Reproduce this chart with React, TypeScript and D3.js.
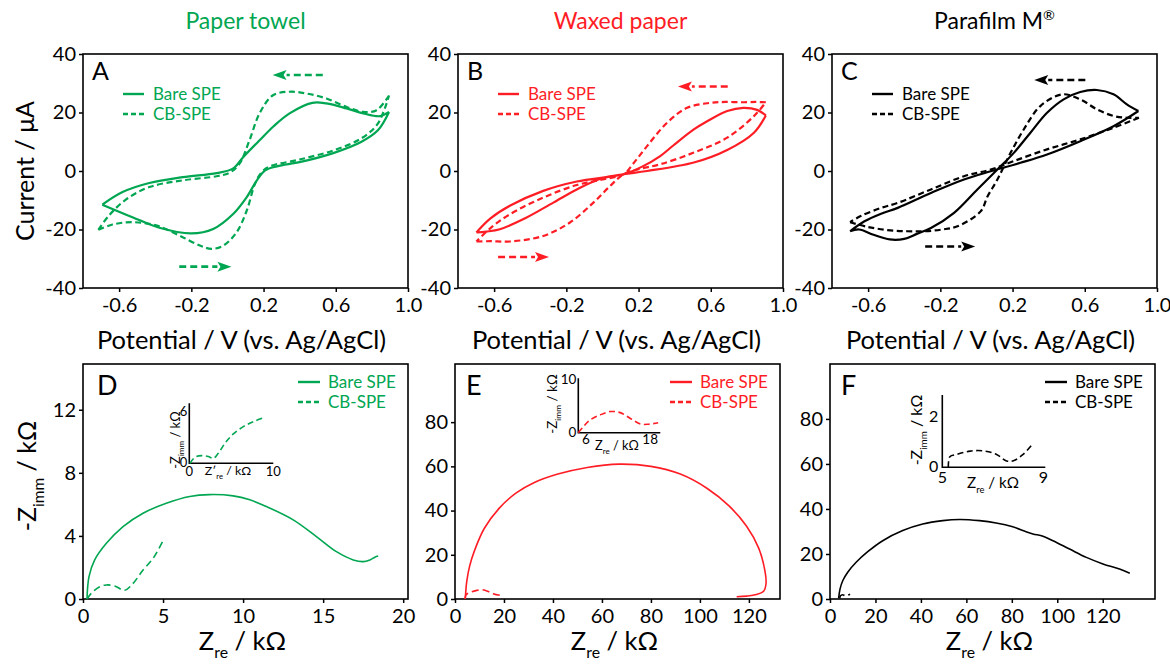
import React, { useRef, useEffect } from "react";
import * as d3 from "d3";

const FONT = "Lato, 'Open Sans', sans-serif";
const GREEN = "#00a651";
const RED = "#ff1d25";
const BLACK = "#000000";

// ---- cyclic voltammetry, [potential V, current uA] ----
const towelBareFwd = [[-0.693, -11.5], [-0.526, -15.8], [-0.377, -19.4], [-0.2, -21.3], [-0.079, -19.8], [0.033, -14.6], [0.107, -8.9], [0.163, -3.2], [0.209, 0.2], [0.274, 1.6], [0.405, 3.1], [0.59, 6.2], [0.74, 9.9], [0.833, 13.9], [0.895, 20.2]];
const towelBareRev = [[0.895, 20.2], [0.844, 18.75], [0.752, 19.7], [0.66, 21.4], [0.548, 23.1], [0.47, 23.3], [0.344, 19.7], [0.256, 15.3], [0.178, 10.5], [0.088, 4.8], [0.03, 0.8], [-0.06, -0.7], [-0.247, -2.1], [-0.433, -4.1], [-0.581, -7.2], [-0.693, -11.5]];
const towelCbFwd = [[-0.715, -20.1], [-0.637, -18.3], [-0.526, -17.5], [-0.395, -18.6], [-0.265, -22.1], [-0.153, -25.5], [-0.088, -26.6], [-0.023, -25.5], [0.051, -20.9], [0.107, -13.5], [0.153, -4.3], [0.191, -0.3], [0.237, 1.6], [0.405, 4.0], [0.59, 7.1], [0.74, 11.1], [0.833, 16.2], [0.895, 25.8]];
const towelCbRev = [[0.895, 25.8], [0.826, 20.8], [0.752, 20.2], [0.66, 21.9], [0.548, 24.8], [0.437, 26.5], [0.344, 27.1], [0.252, 25.9], [0.178, 19.7], [0.122, 10.5], [0.067, 2.5], [0.011, -0.6], [-0.06, -1.8], [-0.247, -3.2], [-0.433, -5.5], [-0.563, -9.8], [-0.656, -15.2], [-0.715, -20.1]];

const waxBareFwd = [[-0.698, -21.0], [-0.643, -20.7], [-0.568, -19.9], [-0.42, -15.9], [-0.272, -10.8], [-0.124, -5.7], [0.006, -2.3], [0.117, -1.1], [0.247, 0.0], [0.506, 2.9], [0.691, 7.2], [0.839, 13.1], [0.905, 19.0]];
const waxBareRev = [[0.905, 19.0], [0.857, 20.9], [0.78, 21.6], [0.691, 20.5], [0.58, 17.0], [0.506, 14.2], [0.394, 8.8], [0.32, 5.1], [0.22, 1.5], [0.117, -1.1], [0.043, -1.9], [-0.142, -3.6], [-0.328, -6.8], [-0.513, -11.9], [-0.62, -16.2], [-0.698, -21.0]];
const waxCbFwd = [[-0.698, -24.1], [-0.62, -24.0], [-0.513, -24.1], [-0.328, -22.2], [-0.18, -17.6], [-0.05, -10.8], [0.043, -5.1], [0.117, -1.1], [0.2, 0.6], [0.32, 2.3], [0.506, 6.3], [0.691, 11.4], [0.839, 18.75], [0.905, 23.5]];
const waxCbRev = [[0.905, 23.5], [0.85, 23.6], [0.783, 23.5], [0.68, 23.6], [0.598, 23.3], [0.469, 21.6], [0.358, 16.5], [0.247, 8.5], [0.17, 2.5], [0.117, -1.1], [0.0, -2.9], [-0.142, -4.8], [-0.328, -9.1], [-0.513, -14.8], [-0.62, -19.5], [-0.698, -24.1]];

const filmBareFwd = [[-0.7, -20.6], [-0.65, -20.0], [-0.57, -21.8], [-0.48, -23.4], [-0.4, -23.2], [-0.33, -21.5], [-0.252, -19.5], [-0.124, -14.3], [0.005, -6.3], [0.116, 0.5], [0.207, 6.2], [0.299, 13.1], [0.391, 19.9], [0.483, 24.5], [0.575, 27.0], [0.667, 27.7], [0.759, 26.2], [0.833, 22.8], [0.897, 20.5]];
const filmBareRev = [[0.897, 20.5], [0.759, 15.3], [0.575, 10.2], [0.391, 5.65], [0.244, 2.8], [0.079, -0.1], [-0.069, -2.9], [-0.252, -7.5], [-0.436, -12.6], [-0.528, -14.6], [-0.62, -17.2], [-0.7, -20.6]];
const filmCbFwd = [[-0.7, -17.5], [-0.604, -19.1], [-0.493, -20.2], [-0.382, -20.6], [-0.289, -20.6], [-0.19, -20.0], [-0.105, -18.9], [0.023, -13.8], [0.062, -8.6], [0.116, -2.9], [0.189, 6.2], [0.262, 14.2], [0.354, 22.2], [0.474, 26.2], [0.575, 24.5], [0.667, 21.1], [0.759, 18.8], [0.833, 18.2], [0.9, 18.2]];
const filmCbRev = [[0.9, 18.2], [0.759, 14.8], [0.575, 10.8], [0.391, 7.4], [0.207, 3.4], [0.079, 0.5], [-0.069, -1.8], [-0.252, -6.3], [-0.436, -10.9], [-0.528, -12.6], [-0.641, -15.4], [-0.7, -17.5]];

// scan direction arrows [fromV, fromI, toV, toI]
const towelArrows = [[0.528, 32.8, 0.25, 32.8], [-0.267, -32.7, 0.022, -32.7]];
const waxArrows = [[0.694, 28.9, 0.418, 28.9], [-0.578, -29.4, -0.296, -29.4]];
const filmArrows = [[0.603, 31.1, 0.32, 31.1], [-0.284, -25.8, -0.007, -25.8]];

const cvTicksX = [-0.6, -0.2, 0.2, 0.6, 1.0];
const cvTicksY = [-40, -20, 0, 20, 40];

// ---- impedance, [Zre kOhm, -Zimm kOhm] ----
const towelBareEis = [[0.25, 0], [0.375, 1.42], [0.73, 2.48], [1.46, 3.53], [2.5, 4.59], [3.75, 5.44], [5.2, 6.07], [6.67, 6.5], [7.9, 6.62], [9.38, 6.54], [10.42, 6.29], [11.46, 5.86], [13.13, 5.02], [14.58, 3.96], [15.83, 3.0], [16.88, 2.48], [17.5, 2.37], [17.92, 2.48], [18.23, 2.65], [18.44, 2.72]];
const towelCbEis = [[0.25, 0], [0.52, 0.36], [1.04, 0.78], [1.46, 0.89], [1.98, 0.83], [2.6, 0.55], [3.13, 0.99], [3.75, 1.84], [4.38, 2.58], [5.06, 3.81]];
const towelCbInset = [[0.08, 0], [0.67, 0.7], [1.47, 0.89], [2.26, 0.78], [2.86, 0.58], [3.45, 1.16], [4.25, 2.33], [5.24, 3.41], [6.43, 4.26], [7.62, 4.84], [8.81, 5.27]];

const waxBareEis = [[4.2, 0], [4.8, 8], [6, 15], [8, 22], [12, 32], [18, 41], [25, 48], [32, 52.5], [42, 56.5], [54, 59.5], [67, 61], [80, 60], [92, 56.5], [103, 50], [112, 42], [119, 33], [124, 23], [126.5, 13], [127, 7], [126, 3.5], [123, 2], [119, 1.3], [115, 1]];
const waxCbEis = [[4.1, 0], [4.5, 1.9], [6.1, 3.0], [8.9, 3.9], [10.9, 4.2], [13.6, 3.4], [15.6, 2.4], [17.7, 1.8], [19.7, 1.8]];
const waxCbInset = [[4.55, 0], [5.5, 1.14], [6.75, 2.4], [8.6, 3.35], [10.5, 4.0], [12.4, 3.8], [14.3, 2.7], [16.2, 1.65], [17.7, 1.6], [19.5, 1.9]];

const filmBareEis = [[3.8, 0.3], [4.4, 4.4], [5.6, 8.1], [7.8, 11.9], [11.5, 16.3], [16.6, 21.0], [23.2, 25.9], [32.0, 30.4], [40.8, 33.3], [49.6, 34.8], [57.0, 35.3], [65.8, 34.8], [73.1, 33.8], [80.4, 32.1], [86.3, 29.9], [89.3, 28.9], [93.7, 27.9], [98.1, 25.9], [105.4, 22.2], [112.8, 18.5], [120.1, 15.6], [127.4, 13.3], [131.9, 11.4]];
const filmCbEis = [[4.3, 0.3], [4.6, 1.4], [5.5, 1.9], [6.8, 1.4], [7.8, 1.6], [8.8, 2.2]];
const filmCbInset = [[5.24, 0], [5.3, 0.42], [5.57, 0.51], [6.1, 0.64], [6.62, 0.65], [7.15, 0.51], [7.55, 0.25], [7.82, 0.26], [8.2, 0.51], [8.6, 0.95]];

const titles = ["Paper towel", "Waxed paper", "Parafilm M"];
const colors = [GREEN, RED, BLACK];
const letters = ["A", "B", "C", "D", "E", "F"];
const legendLabels = ["Bare SPE", "CB-SPE"];

const W = 325;
const CV_TOP = 54, CV_BOT = 288;
const EIS_TOP = 364, EIS_BOT = 599;
const cvLefts = [83, 458, 832];
const eisLefts = [83, 455, 830];

type Part = { t: string; sub?: boolean; sup?: boolean };

function rich(sel: any, parts: Part[], size: number) {
  let shift = 0;
  parts.forEach((p) => {
    const target = p.sub ? size * 0.32 : p.sup ? -size * 0.38 : 0;
    sel.append("tspan")
      .attr("dy", target - shift)
      .attr("font-size", p.sub || p.sup ? size * 0.62 : size)
      .text(p.t);
    shift = target;
  });
}

function styleAxis(g: any, size: number) {
  g.select(".domain").remove();
  g.selectAll(".tick line").attr("stroke", BLACK).attr("stroke-width", 1.5);
  g.selectAll(".tick text").attr("font-size", size).attr("font-family", FONT).attr("fill", BLACK);
}

const App = () => {
  const svgRef = useRef<SVGSVGElement>(null);

  useEffect(() => {
    const svg = d3.select(svgRef.current).html("");
    svg.append("rect").attr("width", 1170).attr("height", 666).attr("fill", "#fff");

    const cvPanels = [
      { fwd: [towelBareFwd, towelCbFwd], rev: [towelBareRev, towelCbRev], arrows: towelArrows },
      { fwd: [waxBareFwd, waxCbFwd], rev: [waxBareRev, waxCbRev], arrows: waxArrows },
      { fwd: [filmBareFwd, filmCbFwd], rev: [filmBareRev, filmCbRev], arrows: filmArrows },
    ];

    // ---------- top row: CV ----------
    cvPanels.forEach((p, i) => {
      const left = cvLefts[i];
      const color = colors[i];
      const x = d3.scaleLinear().domain([-0.8, 1.0]).range([left, left + W]);
      const y = d3.scaleLinear().domain([-40, 40]).range([CV_BOT, CV_TOP]);
      const g = svg.append("g");

      // title
      const tt = g.append("text").attr("x", left + W / 2).attr("y", 29)
        .attr("text-anchor", "middle").attr("font-family", FONT).attr("fill", color);
      rich(tt, i === 2 ? [{ t: titles[i] }, { t: "®", sup: true }] : [{ t: titles[i] }], 23);

      g.append("g").attr("transform", `translate(0,${CV_BOT})`)
        .call(d3.axisBottom(x).tickValues(cvTicksX).tickSize(4).tickPadding(6).tickFormat((d: any) => d.toFixed(1)))
        .call((a: any) => styleAxis(a, 20));
      g.append("g").attr("transform", `translate(${left},0)`)
        .call(d3.axisLeft(y).tickValues(cvTicksY).tickSize(4).tickPadding(3).tickFormat((d: any) => String(d)))
        .call((a: any) => styleAxis(a, 20));

      g.append("rect").attr("x", left).attr("y", CV_TOP).attr("width", W).attr("height", CV_BOT - CV_TOP)
        .attr("fill", "none").attr("stroke", BLACK).attr("stroke-width", 1.6);

      const line = d3.line().x((d: any) => x(d[0])).y((d: any) => y(d[1])).curve(d3.curveCatmullRom.alpha(0.5));
      [0, 1].forEach((s) => {
        g.append("path")
          .attr("d", (line(p.fwd[s] as any) || "") + (line(p.rev[s] as any) || ""))
          .attr("fill", "none").attr("stroke", color).attr("stroke-width", 2.2)
          .attr("stroke-linejoin", "round")
          .attr("stroke-dasharray", s === 1 ? "6,3.5" : null);
      });

      // scan arrows
      p.arrows.forEach((a) => {
        const x0 = x(a[0]), y0 = y(a[1]), x1 = x(a[2]), y1 = y(a[3]);
        const dir = Math.sign(x1 - x0);
        const hl = 14, hw = 5;
        g.append("line").attr("x1", x0).attr("y1", y0).attr("x2", x1 - dir * hl).attr("y2", y1)
          .attr("stroke", color).attr("stroke-width", 2.6).attr("stroke-dasharray", "7,4");
        g.append("path")
          .attr("d", `M${x1},${y1} L${x1 - dir * hl},${y1 - hw} L${x1 - dir * (hl - 3)},${y1} L${x1 - dir * hl},${y1 + hw} Z`)
          .attr("fill", color);
      });

      // legend
      legendLabels.forEach((lab, s) => {
        const ly = CV_TOP + 40 + s * 20;
        g.append("line").attr("x1", left + 40).attr("x2", left + 61).attr("y1", ly).attr("y2", ly)
          .attr("stroke", color).attr("stroke-width", 2.4).attr("stroke-dasharray", s === 1 ? "5,3" : null);
        g.append("text").attr("x", left + 70).attr("y", ly + 6).attr("font-family", FONT)
          .attr("font-size", 17).attr("fill", color).text(lab);
      });

      g.append("text").attr("x", left + 9).attr("y", CV_TOP + 26).attr("font-family", FONT)
        .attr("font-size", 25).attr("fill", BLACK).text(letters[i]);

      g.append("text").attr("x", left + W / 2 - 4).attr("y", 349).attr("text-anchor", "middle")
        .attr("font-family", FONT).attr("font-size", 25.5).attr("fill", BLACK)
        .text("Potential / V (vs. Ag/AgCl)");
    });

    svg.append("text").attr("transform", "translate(34,171) rotate(-90)").attr("text-anchor", "middle")
      .attr("font-family", FONT).attr("font-size", 25).attr("fill", BLACK).text("Current / μA");

    // ---------- bottom row: EIS ----------
    const eisPanels = [
      {
        bare: towelBareEis, cb: towelCbEis, xMax: 20.3, yMax: 14.9,
        xTicks: [0, 5, 10, 15, 20], yTicks: [0, 4, 8, 12],
        inset: {
          data: towelCbInset, x0: 189.3, y0: 463.3, w: 84, h: 60, xd: [0, 10], yd: [0, 6.97],
          xt: [0, 10], yt: [0, 6], fs: 13, tickY: 476, yDx: 2, xlab: [228, 475], ylab: [180, 440],
          xParts: [{ t: "Z′" }, { t: "re", sub: true }, { t: " / kΩ" }] as Part[],
        },
      },
      {
        bare: waxBareEis, cb: waxCbEis, xMax: 132.7, yMax: 106.3,
        xTicks: [0, 20, 40, 60, 80, 100, 120], yTicks: [0, 20, 40, 60, 80],
        inset: {
          data: waxCbInset, x0: 578.3, y0: 432.7, w: 82, h: 54.4, xd: [4.55, 19.9], yd: [0, 10.3],
          xt: [6, 18], yt: [0, 10], fs: 13.5, tickY: 444, yDx: 2, xlab: [617, 450], ylab: [557, 404],
          xParts: [{ t: "Z" }, { t: "re", sub: true }, { t: " / kΩ" }] as Part[],
        },
      },
      {
        bare: filmBareEis, cb: filmCbEis, xMax: 143, yMax: 104.4,
        xTicks: [0, 20, 40, 60, 80, 100, 120], yTicks: [0, 20, 40, 60, 80],
        inset: {
          data: filmCbInset, x0: 942.3, y0: 467.3, w: 103, h: 72.3, xd: [5, 9.08], yd: [0, 2.86],
          xt: [5, 9], yt: [0, 2], fs: 16, tickY: 483, yDx: 4, xlab: [993, 488], ylab: [922, 430],
          xParts: [{ t: "Z" }, { t: "re", sub: true }, { t: " / kΩ" }] as Part[],
        },
      },
    ];

    eisPanels.forEach((p, i) => {
      const left = eisLefts[i];
      const color = colors[i];
      const x = d3.scaleLinear().domain([0, p.xMax]).range([left, left + W]);
      const y = d3.scaleLinear().domain([0, p.yMax]).range([EIS_BOT, EIS_TOP]);
      const g = svg.append("g");

      g.append("g").attr("transform", `translate(0,${EIS_BOT})`)
        .call(d3.axisBottom(x).tickValues(p.xTicks).tickSize(4).tickPadding(6).tickFormat((d: any) => String(d)))
        .call((a: any) => styleAxis(a, 20));
      g.append("g").attr("transform", `translate(${left},0)`)
        .call(d3.axisLeft(y).tickValues(p.yTicks).tickSize(4).tickPadding(3).tickFormat((d: any) => String(d)))
        .call((a: any) => styleAxis(a, 20));
      g.append("rect").attr("x", left).attr("y", EIS_TOP).attr("width", W).attr("height", EIS_BOT - EIS_TOP)
        .attr("fill", "none").attr("stroke", BLACK).attr("stroke-width", 1.6);

      const line = d3.line().x((d: any) => x(d[0])).y((d: any) => y(d[1])).curve(d3.curveCatmullRom.alpha(0.5));
      g.append("path").attr("d", line(p.bare as any)).attr("fill", "none")
        .attr("stroke", color).attr("stroke-width", 1.6);
      g.append("path").attr("d", line(p.cb as any)).attr("fill", "none")
        .attr("stroke", color).attr("stroke-width", 1.6).attr("stroke-dasharray", "7,4");

      // legend
      legendLabels.forEach((lab, s) => {
        const ly = EIS_TOP + 18 + s * 20;
        g.append("line").attr("x1", left + W - 110).attr("x2", left + W - 88).attr("y1", ly).attr("y2", ly)
          .attr("stroke", color).attr("stroke-width", 2.4).attr("stroke-dasharray", s === 1 ? "5,3" : null);
        g.append("text").attr("x", left + W - 80).attr("y", ly + 6).attr("font-family", FONT)
          .attr("font-size", 17).attr("fill", color).text(lab);
      });

      g.append("text").attr("x", left + (i === 0 ? 14 : 11)).attr("y", EIS_TOP + 31).attr("font-family", FONT)
        .attr("font-size", 27).attr("fill", BLACK).text(letters[i + 3]);

      const xl = g.append("text").attr("x", left + W / 2 - 3).attr("y", 650).attr("text-anchor", "middle")
        .attr("font-family", FONT).attr("fill", BLACK);
      rich(xl, [{ t: "Z" }, { t: "re", sub: true }, { t: " / kΩ" }], 25.5);

      // inset
      const ins = p.inset;
      const ix = d3.scaleLinear().domain(ins.xd).range([ins.x0, ins.x0 + ins.w]);
      const iy = d3.scaleLinear().domain(ins.yd).range([ins.y0, ins.y0 - ins.h]);
      g.append("path").attr("d", `M${ins.x0},${ins.y0 - ins.h}V${ins.y0}H${ins.x0 + ins.w}`)
        .attr("fill", "none").attr("stroke", BLACK).attr("stroke-width", 1.6);
      ins.xt.forEach((t) => {
        g.append("text").attr("x", ix(t)).attr("y", ins.tickY).attr("text-anchor", "middle")
          .attr("font-family", FONT).attr("font-size", ins.fs).attr("fill", BLACK).text(String(t));
      });
      ins.yt.forEach((t) => {
        g.append("text").attr("x", ins.x0 - ins.yDx).attr("y", iy(t) + ins.fs * 0.3).attr("text-anchor", "end")
          .attr("font-family", FONT).attr("font-size", ins.fs).attr("fill", BLACK).text(String(t));
      });
      const iline = d3.line().x((d: any) => ix(d[0])).y((d: any) => iy(d[1])).curve(d3.curveCatmullRom.alpha(0.5));
      g.append("path").attr("d", iline(ins.data as any)).attr("fill", "none")
        .attr("stroke", color).attr("stroke-width", 1.6).attr("stroke-dasharray", "6,3.5");
      const ixl = g.append("text").attr("x", ins.xlab[0]).attr("y", ins.xlab[1]).attr("text-anchor", "middle")
        .attr("font-family", FONT).attr("fill", BLACK);
      rich(ixl, ins.xParts, ins.fs * 0.95);
      const iyl = g.append("text").attr("transform", `translate(${ins.ylab[0]},${ins.ylab[1]}) rotate(-90)`)
        .attr("text-anchor", "middle").attr("font-family", FONT).attr("fill", BLACK);
      rich(iyl, [{ t: "-Z" }, { t: "imm", sub: true }, { t: " / kΩ" }], ins.fs);
    });

    const yl = svg.append("text").attr("transform", "translate(36,476) rotate(-90)").attr("text-anchor", "middle")
      .attr("font-family", FONT).attr("fill", BLACK);
    rich(yl, [{ t: "-Z" }, { t: "imm", sub: true }, { t: " / kΩ" }], 25);
  }, []);

  return (
    <svg ref={svgRef} width={1170} height={666}
      style={{ position: "absolute", left: 0, top: 0, display: "block" }} />
  );
};

export default App;
